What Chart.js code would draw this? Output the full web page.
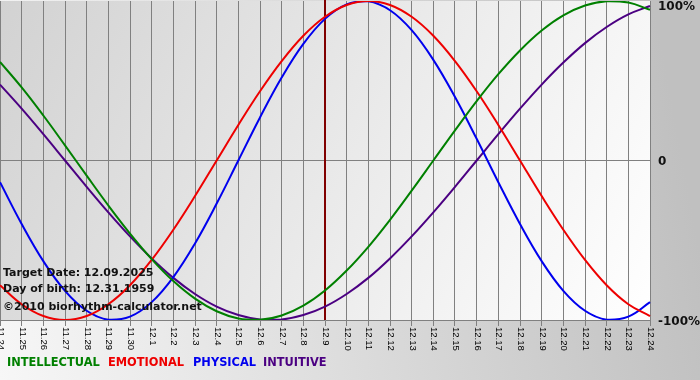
<!DOCTYPE html>
<html>
<head>
<meta charset="utf-8">
<script src="https://cdn.jsdelivr.net/npm/chart.js@4/dist/chart.umd.min.js"></script>
<style>
html,body{margin:0;padding:0;background:#fff;}
#wrap{width:700px;height:380px;position:relative;}
</style>
</head>
<body>
<div id="wrap"><canvas id="c" width="700" height="380"></canvas></div>
<script>
const dates = ['11.24','11.25','11.26','11.27','11.28','11.29','11.30','12.1','12.2','12.3','12.4','12.5','12.6','12.7','12.8','12.9','12.10','12.11','12.12','12.13','12.14','12.15','12.16','12.17','12.18','12.19','12.20','12.21','12.22','12.23','12.24'];
const intellectual = [61.8,45.8,28.2,9.5,-9.5,-28.2,-45.8,-61.8,-75.6,-86.6,-94.5,-99.0,-99.9,-97.2,-91.0,-81.5,-69.0,-54.1,-37.2,-18.9,0,18.9,37.2,54.1,69.0,81.5,91.0,97.2,99.9,99.0,94.5];
const emotional = [-78.2,-90.1,-97.5,-100,-97.5,-90.1,-78.2,-62.3,-43.4,-22.3,0,22.3,43.4,62.3,78.2,90.1,97.5,100,97.5,90.1,78.2,62.3,43.4,22.3,0,-22.3,-43.4,-62.3,-78.2,-90.1,-97.5];
const physical = [-13.6,-39.8,-63.1,-81.7,-94.2,-99.8,-97.9,-88.8,-73.1,-52.0,-27.0,0,27.0,52.0,73.1,88.8,97.9,99.8,94.2,81.7,63.1,39.8,13.6,-13.6,-39.8,-63.1,-81.7,-94.2,-99.8,-97.9,-88.8];
const intuitive = [47.6,32.5,16.5,0,-16.5,-32.5,-47.6,-61.4,-73.6,-83.7,-91.6,-96.9,-99.7,-99.7,-96.9,-91.6,-83.7,-73.6,-61.4,-47.6,-32.5,-16.5,0,16.5,32.5,47.6,61.4,73.6,83.7,91.6,96.9];
const yTicks = [100, 0, -100];
const yTickLabels = ['100%', '0', '-100%'];
const seriesNames = ['INTELLECTUAL', 'EMOTIONAL', 'PHYSICAL', 'INTUITIVE'];
const seriesColors = ['#008000', '#ee0000', '#0000ee', '#4b0082'];
const targetDate = '12.9';
const infoLines = ['Target Date: 12.09.2025', 'Day of birth: 12.31.1959', '\u00a92010 biorhythm-calculator.net'];

const deco = {
  id: 'deco',
  beforeDraw(chart) {
    const {ctx, chartArea: a, width, height} = chart;
    ctx.save();
    const g = ctx.createLinearGradient(0, height, width, height - 130);
    g.addColorStop(0, '#f7f7f7');
    g.addColorStop(1, '#c0c0c0');
    ctx.fillStyle = g;
    ctx.fillRect(0, 0, width, height);
    const g2 = ctx.createLinearGradient(a.left, a.top, a.right, a.bottom);
    g2.addColorStop(0, '#d2d2d2');
    g2.addColorStop(1, '#ffffff');
    ctx.fillStyle = g2;
    ctx.fillRect(a.left, a.top, a.right - a.left, a.bottom - a.top);
    ctx.restore();
  },
  beforeDatasetsDraw(chart) {
    const {ctx, chartArea: a, scales} = chart;
    const x = Math.round(scales.x.getPixelForValue(dates.indexOf(targetDate)));
    ctx.save();
    ctx.strokeStyle = '#800000';
    ctx.lineWidth = 2;
    ctx.beginPath();
    ctx.moveTo(x, 0);
    ctx.lineTo(x, a.bottom);
    ctx.stroke();
    ctx.restore();
  },
  afterDraw(chart) {
    const {ctx, chartArea: a, scales} = chart;
    ctx.save();
    // x tick labels rotated clockwise
    ctx.fillStyle = '#000';
    ctx.font = '9.5px "Liberation Sans", Arial, sans-serif';
    ctx.textAlign = 'left';
    ctx.textBaseline = 'middle';
    dates.forEach((d, i) => {
      const x = scales.x.getPixelForValue(i);
      ctx.save();
      ctx.translate(x + 0.5, a.bottom + 7);
      ctx.rotate(Math.PI / 2);
      ctx.fillText(d, 0, 0);
      ctx.restore();
    });
    // y labels
    ctx.fillStyle = '#111';
    ctx.font = 'bold 12px "DejaVu Sans", Verdana, sans-serif';
    ctx.textBaseline = 'middle';
    yTicks.forEach((v, i) => {
      let y = scales.y.getPixelForValue(v) + 1.5;
      if (y < 7) y = 7;
      ctx.fillText(yTickLabels[i], a.right + 8, y);
    });
    // info text
    ctx.fillStyle = '#111';
    ctx.font = 'bold 11px "DejaVu Sans", Verdana, sans-serif';
    ctx.textBaseline = 'alphabetic';
    const ys = [276, 292, 310];
    infoLines.forEach((t, i) => ctx.fillText(t, 3, ys[i]));
    // legend
    ctx.font = 'bold 11.4px "DejaVu Sans", Verdana, sans-serif';
    const lx = [7, 108, 193, 263];
    seriesNames.forEach((n, i) => {
      ctx.fillStyle = seriesColors[i];
      ctx.fillText(n, lx[i], 366);
    });
    ctx.restore();
  }
};

const mk = (label, data, color) => ({
  label, data, borderColor: color, backgroundColor: color,
  borderWidth: 2, pointRadius: 0, tension: 0.4, fill: false
});

new Chart(document.getElementById('c'), {
  type: 'line',
  data: {
    labels: dates,
    datasets: [
      mk(seriesNames[0], intellectual, seriesColors[0]),
      mk(seriesNames[1], emotional, seriesColors[1]),
      mk(seriesNames[2], physical, seriesColors[2]),
      mk(seriesNames[3], intuitive, seriesColors[3])
    ]
  },
  options: {
    responsive: false,
    animation: false,
    devicePixelRatio: 1,
    layout: {padding: {top: 1, left: 0, right: 0, bottom: 0}},
    plugins: {legend: {display: false}, tooltip: {enabled: false}},
    scales: {
      x: {
        type: 'category',
        offset: false,
        grid: {color: '#808080', lineWidth: 1, drawTicks: true, tickLength: 6, tickColor: '#808080'},
        border: {display: true, color: '#808080'},
        ticks: {display: false},
        afterFit(s) { s.height = 60; }
      },
      y: {
        position: 'right',
        min: -100, max: 100,
        afterBuildTicks(s) { s.ticks = yTicks.map(v => ({value: v})); },
        grid: {
          color: (c) => (c.tick && c.tick.value === 0) ? '#808080' : 'rgba(0,0,0,0)',
          drawTicks: false
        },
        border: {display: true, color: '#808080'},
        ticks: {display: false},
        afterFit(s) { s.width = 50; }
      }
    }
  },
  plugins: [deco]
});
</script>
</body>
</html>
